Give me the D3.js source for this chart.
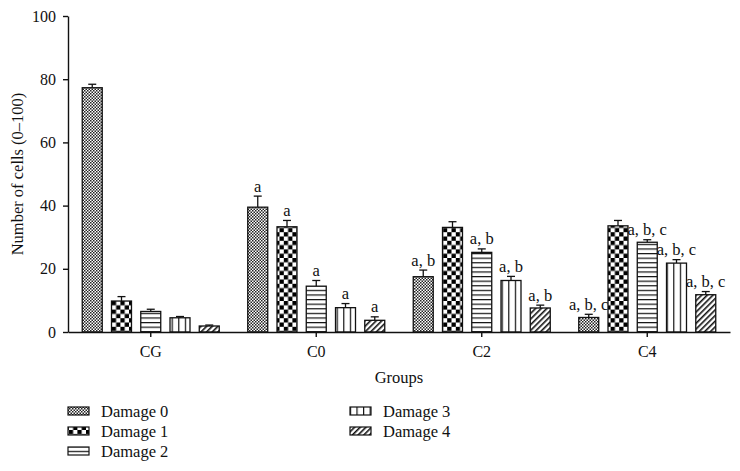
<!DOCTYPE html>
<html><head><meta charset="utf-8">
<script src="https://cdn.jsdelivr.net/npm/d3@7"></script>
<style>
body{margin:0;background:#fff}
svg text{font-family:"Liberation Serif","DejaVu Serif",serif;fill:#111}
</style>
</head><body>
<svg id="chart" width="740" height="471"></svg>
<script>
// ---- data ----
const groups = ["CG", "C0", "C2", "C4"];
const seriesNames = ["Damage 0", "Damage 1", "Damage 2", "Damage 3", "Damage 4"];
const damage0 = [77.3, 39.5, 17.5, 4.6];
const damage1 = [9.8, 33.3, 33.1, 33.6];
const damage2 = [6.5, 14.5, 25.2, 28.4];
const damage3 = [4.5, 7.7, 16.3, 21.8];
const damage4 = [1.9, 3.7, 7.6, 11.8];
const damage0Err = [1.1, 3.5, 2.1, 1.0];
const damage1Err = [1.4, 2.0, 1.8, 1.7];
const damage2Err = [0.7, 1.8, 1.1, 0.8];
const damage3Err = [0.4, 1.3, 1.3, 1.1];
const damage4Err = [0.3, 1.1, 0.9, 1.0];
const damage0Sig = ["", "a", "a, b", "a, b, c"];
const damage1Sig = ["", "a", "", ""];
const damage2Sig = ["", "a", "a, b", "a, b, c"];
const damage3Sig = ["", "a", "a, b", "a, b, c"];
const damage4Sig = ["", "a", "a, b", "a, b, c"];
const yTicks = [0, 20, 40, 60, 80, 100];
const yLabel = "Number of cells (0\u2013100)";
const xLabel = "Groups";

const values = [damage0, damage1, damage2, damage3, damage4];
const errs = [damage0Err, damage1Err, damage2Err, damage3Err, damage4Err];
const sigs = [damage0Sig, damage1Sig, damage2Sig, damage3Sig, damage4Sig];

const svg = d3.select("#chart");
const defs = svg.append("defs");

// ---- patterns ----
function pat(id, w, h) {
  const p = defs.append("pattern").attr("id", id).attr("patternUnits", "userSpaceOnUse")
    .attr("width", w).attr("height", h);
  p.append("rect").attr("width", w).attr("height", h).attr("fill", "#fff");
  return p;
}
// Damage 0: fine checker
let p0 = pat("p0", 3, 3);
p0.append("rect").attr("width", 1.5).attr("height", 1.5).attr("fill", "#222");
p0.append("rect").attr("x", 1.5).attr("y", 1.5).attr("width", 1.5).attr("height", 1.5).attr("fill", "#222");
// Damage 1: coarse checker
let p1 = pat("p1", 8.6, 8.6);
p1.append("rect").attr("width", 4.3).attr("height", 4.3).attr("fill", "#000");
p1.append("rect").attr("x", 4.3).attr("y", 4.3).attr("width", 4.3).attr("height", 4.3).attr("fill", "#000");
// Damage 2: horizontal lines
let p2 = pat("p2", 10, 4.6);
p2.append("line").attr("x1", 0).attr("x2", 10).attr("y1", 0.6).attr("y2", 0.6).attr("stroke", "#111").attr("stroke-width", 1.2);
// Damage 3: vertical lines
let p3 = pat("p3", 6.6, 10);
p3.append("line").attr("y1", 0).attr("y2", 10).attr("x1", 0.6).attr("x2", 0.6).attr("stroke", "#111").attr("stroke-width", 1.2);
// Damage 4: diagonal lines
let p4 = defs.append("pattern").attr("id", "p4").attr("patternUnits", "userSpaceOnUse")
  .attr("width", 4).attr("height", 4).attr("patternTransform", "rotate(45)");
p4.append("rect").attr("width", 4).attr("height", 4).attr("fill", "#fff");
p4.append("line").attr("x1", 0.8).attr("x2", 0.8).attr("y1", 0).attr("y2", 4).attr("stroke", "#111").attr("stroke-width", 1.6);
const fills = ["url(#p0)", "url(#p1)", "url(#p2)", "url(#p3)", "url(#p4)"];

// ---- scales ----
const x = d3.scaleBand().domain(groups).range([68, 730]);
const innerW = 137;
const x1 = d3.scaleBand().domain(seriesNames).range([0, innerW]).paddingInner(0.317);
const y = d3.scaleLinear().domain([0, 100]).range([332, 16]);

// ---- bars ----
const g = svg.append("g");
groups.forEach((grp, gi) => {
  const off = x(grp) + (x.bandwidth() - innerW) / 2;
  seriesNames.forEach((s, si) => {
    const v = values[si][gi], e = errs[si][gi];
    const bx = off + x1(s), bw = x1.bandwidth();
    const cx = bx + bw / 2;
    g.append("line").attr("x1", cx).attr("x2", cx).attr("y1", y(v)).attr("y2", y(v + e))
      .attr("stroke", "#111").attr("stroke-width", 1.3);
    g.append("line").attr("x1", cx - 4).attr("x2", cx + 4).attr("y1", y(v + e)).attr("y2", y(v + e))
      .attr("stroke", "#111").attr("stroke-width", 1.3);
    g.append("rect").attr("x", bx).attr("y", y(v)).attr("width", bw).attr("height", y(0) - y(v))
      .attr("fill", fills[si]).attr("stroke", "#111").attr("stroke-width", 1.3);
    const lab = sigs[si][gi];
    if (lab) {
      g.append("text").attr("x", cx).attr("y", y(v + e) - 4.5).attr("text-anchor", "middle")
        .attr("font-size", 16.5).text(lab);
    }
  });
});

// ---- axes ----
const ya = svg.append("g").attr("transform", "translate(68,0)")
  .call(d3.axisLeft(y).tickValues(yTicks).tickSize(5).tickSizeOuter(0).tickPadding(7));
const xa = svg.append("g").attr("transform", "translate(0,332)")
  .call(d3.axisBottom(x).tickSize(5).tickSizeOuter(0).tickPadding(9));
[ya, xa].forEach(a => {
  a.selectAll("path,line").attr("stroke", "#111").attr("stroke-width", 1.4);
  a.selectAll("text").attr("font-size", 16).attr("font-family", "Liberation Serif, serif").attr("fill", "#111");
});

svg.append("text").attr("transform", "translate(23,174) rotate(-90)").attr("text-anchor", "middle")
  .attr("font-size", 16.5).text(yLabel);
svg.append("text").attr("x", 399).attr("y", 383).attr("text-anchor", "middle")
  .attr("font-size", 16.5).text(xLabel);

// ---- legend ----
const legPos = [[68, 411], [68, 431], [68, 451], [350, 411], [350, 431]];
seriesNames.forEach((s, i) => {
  const [lx, ly] = legPos[i];
  svg.append("rect").attr("x", lx).attr("y", ly - 4).attr("width", 21).attr("height", 8)
    .attr("fill", fills[i]).attr("stroke", "#111").attr("stroke-width", 1.2);
  svg.append("text").attr("x", lx + 33).attr("y", ly + 5.5).attr("font-size", 16.5).text(s);
});
</script>
</body></html>
